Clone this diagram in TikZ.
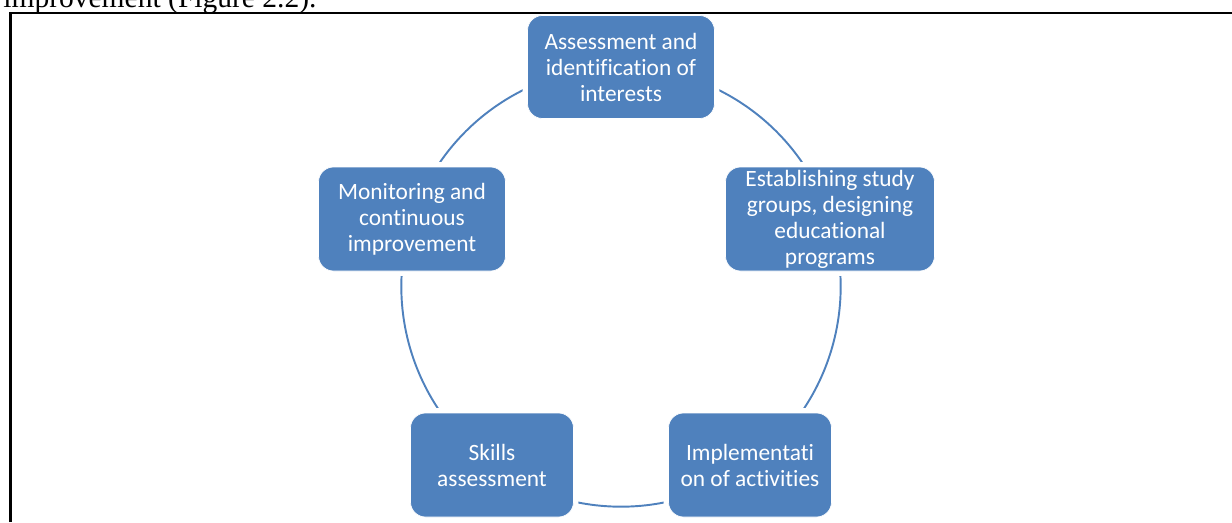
\documentclass[tikz,border=0pt]{standalone}
\usepackage{fontspec}
\setmainfont{Carlito}[Ligatures=NoCommon]
\newfontfamily\pageserif{Liberation Serif}
\usetikzlibrary{backgrounds}
\definecolor{cycleblue}{RGB}{79,129,189}
\tikzset{
  stage/.style={rectangle, rounded corners=0.3cm, fill=cycleblue, draw=white, line width=0.4pt,
    preaction={draw=white, line width=5.6pt}, text=white, align=center, inner sep=0pt,
    minimum height=2.08cm, font=\fontsize{13.3}{14.8}\selectfont},
  link/.style={draw=cycleblue, line width=1.1pt, looseness=0.94}
}

\begin{document}
\begin{tikzpicture}
\useasboundingbox (0,0) rectangle (24.64,10.44);
\node[anchor=base west, inner sep=0pt, font=\pageserif\fontsize{16.8}{20}\selectfont] (caption) at (0.06,10.28) {improvement (Figure 2.2).};
\node[stage, minimum width=3.74cm, minimum height=2.06cm] (assess) at (12.42,9.10) {Assessment and\\identification of\\interests};
\node[stage, minimum width=4.18cm] (groups) at (16.60,6.06) {Establishing study\\groups, designing\\educational\\programs};
\node[stage, minimum width=3.26cm] (implement) at (15.00,1.14) {Implementati\\on of activities};
\node[stage, minimum width=3.26cm] (skills) at (9.84,1.14) {Skills\\assessment};
\node[stage, minimum width=3.74cm] (monitor) at (8.24,6.06) {Monitoring and\\continuous\\improvement};
\begin{scope}[on background layer]
\draw[link] (assess.center) to[bend right=36] (monitor.center);
\draw[link] (monitor.center) to[bend right=36] (skills.center);
\draw[link] (skills.center) to[bend right=36] (implement.center);
\draw[link] (implement.center) to[bend right=36] (groups.center);
\draw[link] (groups.center) to[bend right=36] (assess.center);
\end{scope}
% frame of the page figure
\draw[line width=1.4pt] (0.21,0) -- (0.21,10.18) -- (24.7,10.18);
\end{tikzpicture}
\end{document}
